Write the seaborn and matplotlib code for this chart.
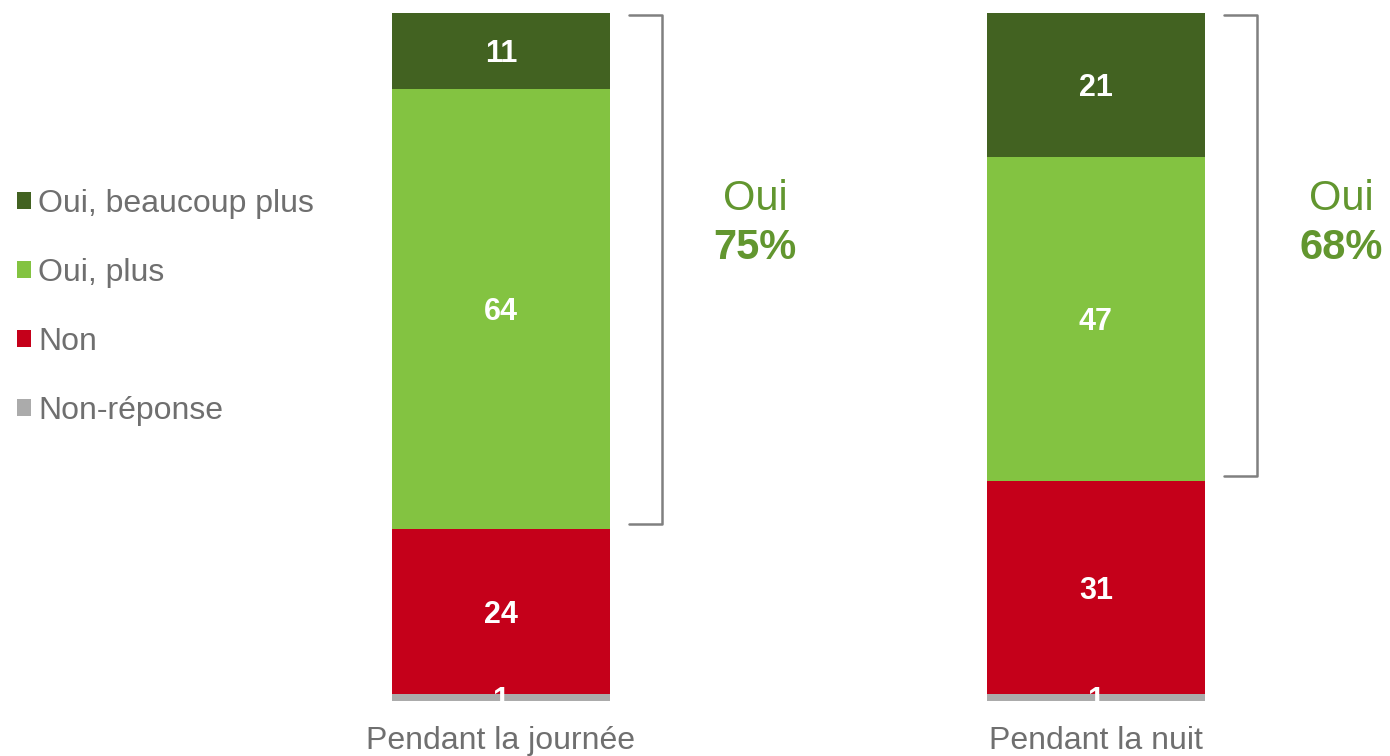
import matplotlib
matplotlib.use("Agg")
import matplotlib.pyplot as plt
from matplotlib.patches import Patch
import seaborn as sns
import numpy as np
import pandas as pd

# ---- data ----
categories = ["Pendant la journée", "Pendant la nuit"]
series_names = ["Oui, beaucoup plus", "Oui, plus", "Non", "Non-réponse"]
oui_beaucoup = [11, 21]
oui_plus = [64, 47]
non = [24, 31]
non_reponse = [1, 1]
oui_totals = ["75%", "68%"]

colors = {"Oui, beaucoup plus": "#426221", "Oui, plus": "#83C341",
          "Non": "#C5001A", "Non-réponse": "#ABABAB"}
text_grey = "#6F6F6F"
oui_color = "#62962F"

sns.set_theme(style="white")
plt.rcParams["font.family"] = ["Liberation Sans", "DejaVu Sans"]

fig = plt.figure(figsize=(13.9, 7.56), dpi=100)
ax = fig.add_axes([0, 55 / 756, 1, 688 / 756])

# stacked (bottom to top): Non-réponse, Non, Oui plus, Oui beaucoup
stack_order = ["Non-réponse", "Non", "Oui, plus", "Oui, beaucoup plus"]
values = {"Oui, beaucoup plus": oui_beaucoup, "Oui, plus": oui_plus,
          "Non": non, "Non-réponse": non_reponse}
cum = np.cumsum(np.array([values[s] for s in stack_order]), axis=0)
bar_w = 0.365

# draw tallest cumulative first, shorter ones on top
for i in range(len(stack_order) - 1, -1, -1):
    df = pd.DataFrame({"cat": categories, "val": cum[i]})
    sns.barplot(data=df, x="cat", y="val", color=colors[stack_order[i]],
                saturation=1, width=bar_w, ax=ax, linewidth=0)

# value labels
for i, s in enumerate(stack_order):
    for j in range(len(categories)):
        v = values[s][j]
        base = cum[i - 1][j] if i > 0 else 0
        ax.text(j, base + v / 2 - 0.45, f"{v}", ha="center", va="center",
                color="white", fontsize=22, fontweight="bold")

# brackets and "Oui" totals
oui_dx = [0.427, 0.412]
for j in range(len(categories)):
    bottom = cum[1][j] + 0.7
    top = cum[3][j] - 0.3
    x0, x1 = j + 0.215, j + 0.27
    ax.plot([x0, x1, x1, x0], [top, top, bottom, bottom], color="#808080",
            lw=1.8, solid_joinstyle="round", clip_on=False)
    ax.text(j + oui_dx[j], 73.0, "Oui", ha="center", va="center",
            color=oui_color, fontsize=30)
    ax.text(j + oui_dx[j], 65.8, oui_totals[j], ha="center", va="center",
            color=oui_color, fontsize=30, fontweight="bold")

ax.set_xlim(-501 / 595, 1 + (1390 - 1096) / 595)
ax.set_ylim(0, 100)
for sp in ax.spines.values():
    sp.set_visible(False)
ax.set_yticks([])
ax.set_xlabel("")
ax.set_ylabel("")
ax.tick_params(axis="x", length=0, pad=18, labelsize=23, labelcolor=text_grey)

handles = [Patch(facecolor=colors[s], edgecolor="none") for s in series_names]
leg = fig.legend(handles, series_names, loc="center left",
                 bbox_to_anchor=(17 / 1390, (756 - 307.5) / 756),
                 frameon=False, fontsize=23, handlelength=0.44,
                 handleheight=0.44, handletextpad=0.22, labelspacing=1.22,
                 borderpad=0, borderaxespad=0)
for t in leg.get_texts():
    t.set_color(text_grey)

fig.savefig("out.png", dpi=100)
